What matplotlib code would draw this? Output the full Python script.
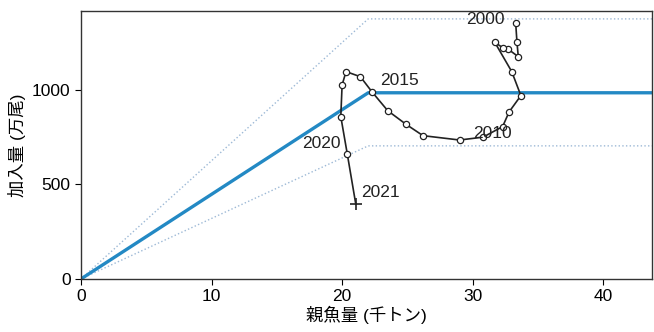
import matplotlib
matplotlib.use('Agg')
import matplotlib.pyplot as plt
import numpy as np

plt.rcParams['font.family'] = ['Liberation Sans', 'Noto Sans CJK JP', 'DejaVu Sans']

# 親魚量-加入量の推移 (2000-2021)
years = list(range(2000, 2022))
ssb = [33.3, 33.4, 33.5, 32.7, 32.3, 31.7, 33.0, 33.7, 32.8, 32.3, 30.8,
       29.0, 26.2, 24.9, 23.5, 22.3, 21.4, 20.3, 20.0, 19.9, 20.4, 21.05]
rec = [1356, 1252, 1176, 1217, 1224, 1252, 1097, 970, 884, 806, 750,
       735, 758, 818, 890, 989, 1070, 1097, 1026, 859, 660, 395]

# ホッケースティック型 再生産関係
hs_x = [0, 22.0, 44.0]
hs_mid = [0, 985, 985]
hs_upper = [0, 1376, 1376]
hs_lower = [0, 704, 704]

label_years = [2000, 2010, 2015, 2020, 2021]

fig = plt.figure(figsize=(6.54, 3.32), dpi=100)
ax = fig.add_axes([0.124, 0.16, 0.873, 0.807])

ax.plot(hs_x, hs_upper, color='#9db9d6', lw=1.0, ls=':')
ax.plot(hs_x, hs_lower, color='#9db9d6', lw=1.0, ls=':')
ax.plot(hs_x, hs_mid, color='#2389c4', lw=2.4)

ax.plot(ssb, rec, color='#222222', lw=1.2)
ax.plot(ssb[:-1], rec[:-1], 'o', ms=4.5, mfc='white', mec='#222222', mew=0.9)
ax.plot(ssb[-1], rec[-1], '+', ms=8, color='#222222', mew=1.2)

offsets = {2000: (-8, 2, 'right'), 2010: (-7, 3, 'left'), 2015: (6, 8.5, 'left'),
           2020: (-5, 8, 'right'), 2021: (4, 8.5, 'left')}
for yr in label_years:
    i = years.index(yr)
    dx, dy, ha = offsets[yr]
    ax.annotate(str(yr), (ssb[i], rec[i]), xytext=(dx, dy), textcoords='offset points',
                ha=ha, va='center', fontsize=12.5, color='#222222')

ax.set_xlim(0, 43.75)
ax.set_ylim(0, 1418)
ax.set_xticks([0, 10, 20, 30, 40])
ax.set_yticks([0, 500, 1000])
ax.tick_params(labelsize=12.5, length=4, direction='out')
ax.set_xlabel('親魚量 (千トン)', fontsize=12.5, labelpad=1)
ax.set_ylabel('加入量 (万尾)', fontsize=12.5, labelpad=4)
for s in ax.spines.values():
    s.set_color('#333333')
    s.set_linewidth(1.0)

fig.savefig('out.png', dpi=100)
